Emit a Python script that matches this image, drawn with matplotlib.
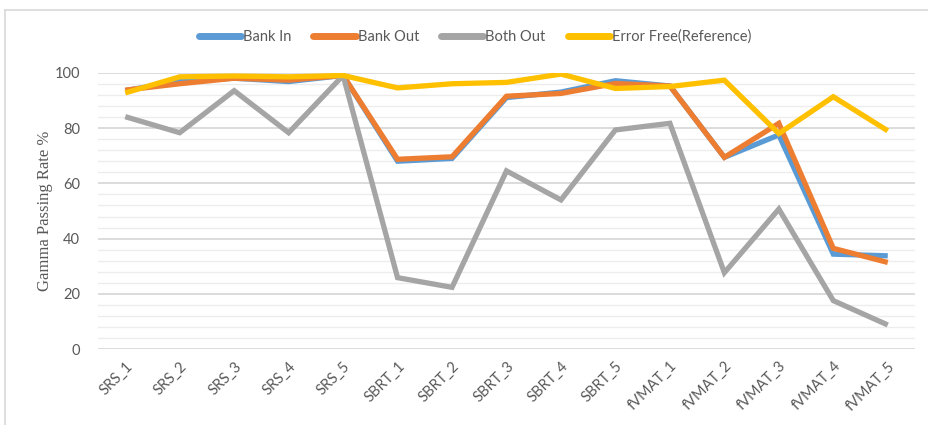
import matplotlib
matplotlib.use("Agg")
import matplotlib.pyplot as plt
from matplotlib.lines import Line2D
from matplotlib.ticker import MultipleLocator

categories = ["SRS_1", "SRS_2", "SRS_3", "SRS_4", "SRS_5",
              "SBRT_1", "SBRT_2", "SBRT_3", "SBRT_4", "SBRT_5",
              "fVMAT_1", "fVMAT_2", "fVMAT_3", "fVMAT_4", "fVMAT_5"]
bank_in = [93.5, 97.0, 98.0, 96.8, 99.0, 68.0, 69.0, 91.0, 93.0, 97.1, 95.2, 69.4, 77.5, 34.4, 33.8]
bank_out = [93.7, 96.0, 98.0, 97.3, 99.0, 68.7, 69.6, 91.5, 92.5, 96.1, 95.2, 69.4, 81.7, 36.5, 31.4]
both_out = [84.1, 78.3, 93.5, 78.3, 99.0, 25.9, 22.4, 64.5, 54.0, 79.3, 81.7, 27.7, 50.7, 17.6, 8.8]
error_free = [92.7, 98.5, 98.8, 98.5, 99.0, 94.5, 96.0, 96.5, 99.5, 94.3, 95.0, 97.3, 78.0, 91.3, 79.0]

series = [("Bank In", bank_in, "#5B9BD5"),
          ("Bank Out", bank_out, "#ED7D31"),
          ("Both Out", both_out, "#A5A5A5"),
          ("Error Free(Reference)", error_free, "#FFC000")]

W, H = 929, 425
fig = plt.figure(figsize=(W / 100, H / 100), dpi=100)
ax = fig.add_axes([98 / W, 1 - 349.3 / H, (915 - 98) / W, (349.3 - 72.7) / H])

x = list(range(len(categories)))
handles = []
for name, vals, col in series:
    ax.plot(x, vals, color=col, lw=3.8, solid_joinstyle="miter", solid_capstyle="butt", zorder=3)
    handles.append(Line2D([0], [0], color=col, lw=5, solid_capstyle="round"))

ax.set_xlim(-0.5, len(categories) - 0.5)
ax.set_ylim(0, 100)
ax.yaxis.set_major_locator(MultipleLocator(20))
ax.yaxis.set_minor_locator(MultipleLocator(4))
ax.grid(axis="y", which="major", color="#D9D9D9", lw=1.3, zorder=0)
ax.grid(axis="y", which="minor", color="#EDEDED", lw=1.0, zorder=0)
ax.set_axisbelow(True)
for s in ax.spines.values():
    s.set_visible(False)
ax.tick_params(axis="both", which="both", length=0)
ax.tick_params(axis="y", pad=13, labelsize=10.5, labelcolor="#595959")
ax.set_xticks(x)
ax.set_xticklabels(categories, rotation=45, ha="right", rotation_mode="anchor",
                   fontsize=10.5, color="#595959", family="Lato")
ax.tick_params(axis="x", pad=7)
for lab in ax.get_yticklabels():
    lab.set_family("Lato")

ax.set_ylabel("Gamma Passing Rate %", family="Liberation Serif", fontsize=12,
              color="#595959", labelpad=1)

fig.legend(handles, [s[0] for s in series], loc="center", bbox_to_anchor=(475 / W, 1 - 37 / H),
           ncol=4, frameon=False, handlelength=2.9, handletextpad=0.15, columnspacing=1.5,
           prop={"family": "Lato", "size": 10.5}, labelcolor="#595959")

# chart-area border
fig.add_artist(Line2D([5 / W, 5 / W], [0, 1 - 10 / H], color="#D9D9D9", lw=1.2))
fig.add_artist(Line2D([5 / W, 1], [1 - 10 / H, 1 - 10 / H], color="#D9D9D9", lw=1.2))

fig.savefig("out.png", dpi=100)
